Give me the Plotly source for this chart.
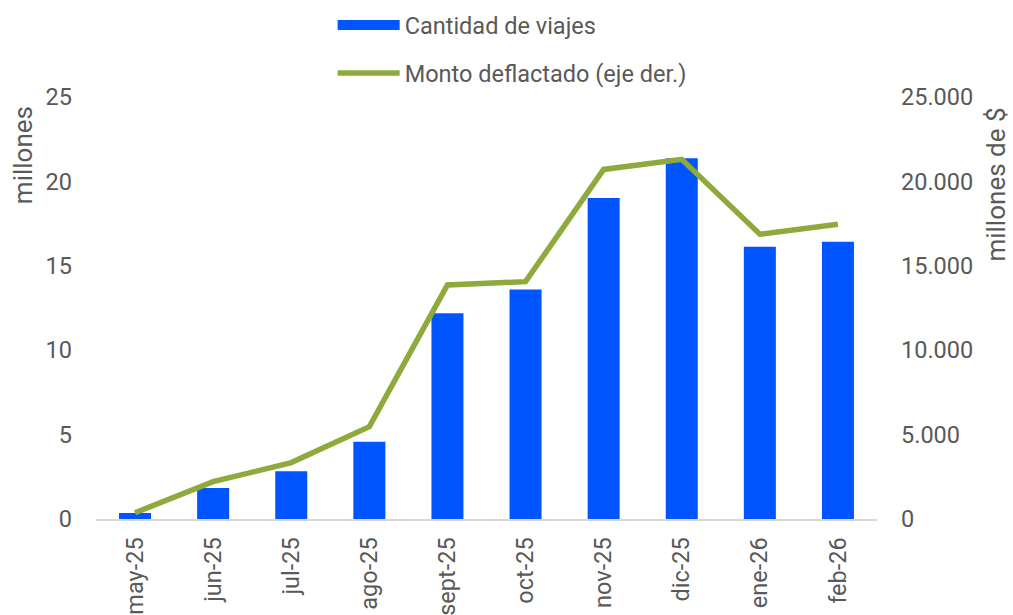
import plotly.graph_objects as go

categories = ["may-25", "jun-25", "jul-25", "ago-25", "sept-25", "oct-25",
              "nov-25", "dic-25", "ene-26", "feb-26"]
viajes = [0.36, 1.84, 2.83, 4.58, 12.19, 13.6, 19.02, 21.37, 16.13, 16.43]
monto = [370, 2210, 3340, 5470, 13860, 14060, 20710, 21310, 16870, 17460]
left_ticks = [0, 5, 10, 15, 20, 25]
right_ticks = [0, 5000, 10000, 15000, 20000, 25000]
right_labels = ["0", "5.000", "10.000", "15.000", "20.000", "25.000"]

FONT = "Roboto"
GRAY = "#595959"
FS = 23.5
TFS = 26
BLUE = "#0055FF"
GREEN = "#8FAA3C"

fig = go.Figure()
fig.add_trace(go.Bar(x=categories, y=viajes, name="Cantidad de viajes",
                     marker=dict(color=BLUE, line=dict(width=0)),
                     width=0.41, showlegend=False))
# legend-only entry to show the wide rectangular swatch
fig.add_trace(go.Scatter(x=[None], y=[None], name="Cantidad de viajes",
                         mode="lines", line=dict(color=BLUE, width=14),
                         legend="legend"))
fig.add_trace(go.Scatter(x=categories, y=monto, name="Monto deflactado (eje der.)",
                         mode="lines", line=dict(color=GREEN, width=5.5),
                         yaxis="y2", legend="legend2"))

fig.update_layout(
    width=1013, height=615,
    margin=dict(l=96, r=136, t=97, b=96, autoexpand=False),
    paper_bgcolor="white", plot_bgcolor="white",
    font=dict(family=FONT, size=FS, color=GRAY),
    xaxis=dict(showgrid=False, showline=True, linecolor="#D9D9D9", linewidth=2,
               tickangle=-90, automargin=False, ticks="", ticklabelstandoff=7,
               tickfont=dict(size=FS, color=GRAY)),
    yaxis=dict(range=[0, 25], tickvals=left_ticks, showgrid=False, zeroline=False,
               showline=False, automargin=False, ticklabelstandoff=23,
               tickfont=dict(size=FS, color=GRAY)),
    yaxis2=dict(range=[0, 25000], tickvals=right_ticks, ticktext=right_labels,
                overlaying="y", side="right", showgrid=False, zeroline=False,
                showline=False, automargin=False, ticklabelstandoff=23,
                tickfont=dict(size=FS, color=GRAY)),
    legend=dict(x=0.303, y=0.959, yref="container", xanchor="left", yanchor="middle",
                itemwidth=62, font=dict(size=FS, color=GRAY), bgcolor="rgba(0,0,0,0)"),
    legend2=dict(x=0.303, y=0.881, yref="container", xanchor="left", yanchor="middle",
                 itemwidth=62, font=dict(size=FS, color=GRAY), bgcolor="rgba(0,0,0,0)"),
    showlegend=True,
    annotations=[
        dict(text="millones", textangle=-90, xref="paper", yref="paper",
             x=-0.0935, y=0.983, xanchor="center", yanchor="top", showarrow=False,
             font=dict(size=TFS, color=GRAY)),
        dict(text="millones de $", textangle=-90, xref="paper", yref="paper",
             x=1.152, y=0.979, xanchor="center", yanchor="top", showarrow=False,
             font=dict(size=TFS, color=GRAY)),
    ],
)

fig.write_html("out.html", config={"displayModeBar": False},
               post_script="document.body.style.margin='0';document.body.style.overflow='hidden';")
